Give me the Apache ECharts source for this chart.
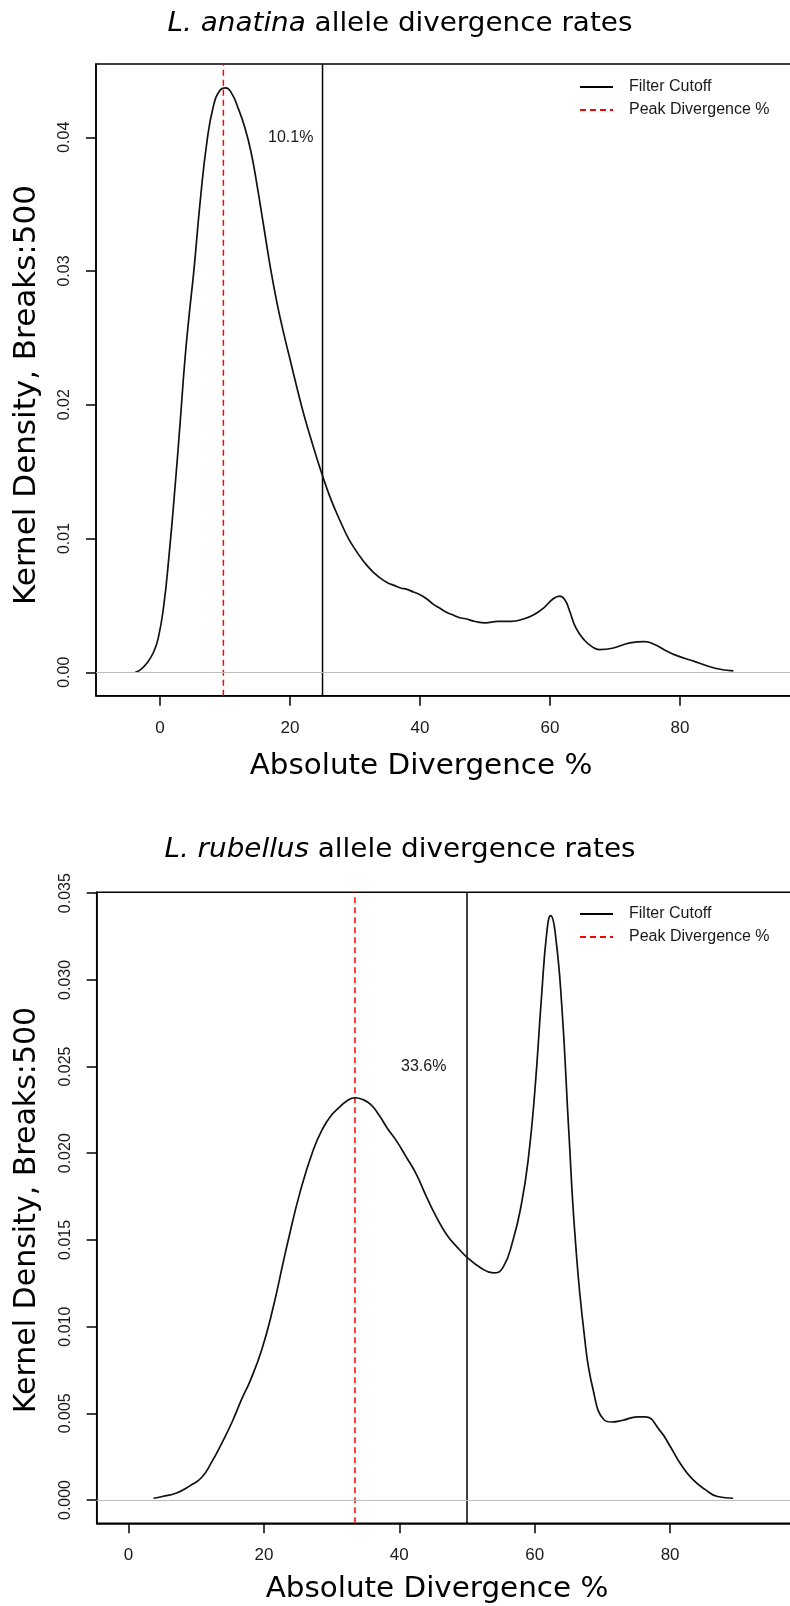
<!DOCTYPE html>
<html>
<head>
<meta charset="utf-8">
<script src="https://cdn.jsdelivr.net/npm/echarts@6/dist/echarts.min.js"></script>
<style>
html,body{margin:0;padding:0;background:#fff;}
#chart{width:790px;height:1606px;}
</style>
</head>
<body>
<div id="chart"></div>
<script>
// ---------- data ----------
const xTicks = [0, 20, 40, 60, 80];
const yTicksTop = [0, 0.01, 0.02, 0.03, 0.04];
const yTicksBottom = [0, 0.005, 0.010, 0.015, 0.020, 0.025, 0.030, 0.035];

// L. anatina kernel density [divergence %, density]
const anatinaDensity = [
  [-3.8,0.0000],[-3.0,0.0002],[-2.0,0.0007],[-1.0,0.0015],[-0.3,0.0025],[0.5,0.0047],
  [1.4,0.0088],[2.3,0.0138],[3.1,0.0187],[3.8,0.0232],[4.5,0.0268],[5.2,0.0300],
  [6.2,0.0353],[7.2,0.0396],[8.2,0.0423],[9.2,0.0435],[10.1,0.0437],[11.0,0.0433],
  [12.0,0.0422],[13.0,0.0408],[14.0,0.0389],[15.0,0.0362],[16.0,0.0332],[17.0,0.0302],
  [18.0,0.0276],[19.0,0.0254],[20.0,0.0234],[21.0,0.0214],[22.0,0.0195],[23.0,0.0178],
  [24.0,0.0162],[25.0,0.0147],[26.0,0.0133],[27.0,0.0121],[28.0,0.0110],[29.0,0.0100],
  [30.0,0.0092],[31.0,0.0085],[32.0,0.0079],[33.0,0.0074],[34.0,0.0070],[35.0,0.0067],
  [36.0,0.0065],[37.0,0.0063],[38.0,0.0062],[39.0,0.0060],[40.0,0.0058],[41.0,0.0055],
  [42.0,0.0051],[43.0,0.0048],[44.0,0.0045],[45.0,0.0043],[46.0,0.0041],[47.0,0.0040],
  [48.5,0.0038],[50.0,0.0037],[52.0,0.0038],[54.0,0.0038],[56.0,0.0040],[57.5,0.0043],
  [59.0,0.0048],[60.5,0.0055],[61.5,0.0057],[62.3,0.0054],[63.0,0.0046],[64.0,0.0033],
  [65.3,0.0024],[66.5,0.0019],[67.6,0.0017],[69.6,0.0018],[72.3,0.0022],[74.5,0.0023],
  [76.0,0.0021],[77.5,0.0017],[79.2,0.0013],[82.3,0.0008],[85.4,0.0003],[88.2,0.0001]
];
const anatinaCutoff = 25;
const anatinaPeak = 9.75;
const anatinaPeakLabel = '10.1%';
const anatinaLabelPos = [20.1, 0.040];

// L. rubellus kernel density [divergence %, density]
const rubellusDensity = [
  [3.7,0.0001],[5.0,0.0002],[7.1,0.0004],[9.0,0.0008],[10.8,0.0013],[12.3,0.0022],
  [13.8,0.0033],[15.3,0.0045],[16.7,0.0058],[18.0,0.0069],[19.7,0.0087],[21.3,0.0110],
  [22.9,0.0138],[23.6,0.0150],[25.3,0.0177],[27.3,0.0202],[28.8,0.0215],[30.0,0.0222],
  [31.0,0.0226],[32.2,0.0230],[33.45,0.0232],[34.6,0.0231],[35.8,0.0228],[37.0,0.0222],
  [38.3,0.0214],[39.6,0.0207],[41.0,0.0198],[42.5,0.0188],[44.0,0.0175],[45.5,0.0163],
  [47.0,0.0153],[48.5,0.0146],[50.0,0.0140],[52.0,0.0134],[53.9,0.0131],[55.3,0.0134],
  [56.8,0.0150],[58.0,0.0170],[59.0,0.0195],[60.0,0.0235],[61.0,0.0290],[61.8,0.0328],
  [62.35,0.0337],[63.0,0.0328],[64.0,0.0285],[65.0,0.0215],[66.0,0.0150],[67.3,0.0096],
  [68.6,0.0064],[70.3,0.0046],[71.4,0.0045],[73.0,0.0046],[75.2,0.0048],[76.3,0.0048],
  [78.5,0.0040],[80.0,0.0031],[81.5,0.0021],[83.3,0.0012],[85.2,0.0006],[87.0,0.0002],
  [89.3,0.0001]
];
const rubellusCutoff = 50;
const rubellusPeak = 33.45;
const rubellusPeakLabel = '33.6%';
const rubellusLabelPos = [43.6, 0.025];

const legendNames = ['Filter Cutoff', 'Peak Divergence %'];
const yTitle = 'Kernel Density, Breaks:500';
const xTitle = 'Absolute Divergence %';

// ---------- layout ----------
const TOP = {left: 96, top: 64, height: 631.7, xmin: -9.85, xmax: 100, ymin: -0.00175, ymax: 0.04548, scaleX: 6.5};
const BOT = {left: 96.7, top: 892.3, height: 631, xmin: -4.7, xmax: 105, ymin: -0.001344, ymax: 0.03505, scaleX: 6.77};

const tickFont = 'Liberation Sans';
const titleFont = 'DejaVu Sans';

function gridOf(p) {
  return {left: p.left, top: p.top, height: p.height, width: (p.xmax - p.xmin) * p.scaleX,
    outerBoundsMode: 'none', containLabel: false,
    show: true, borderColor: '#000', borderWidth: 1.5, backgroundColor: 'transparent'};
}
function xAxisOf(idx, p) {
  return {type: 'value', gridIndex: idx, min: p.xmin, max: p.xmax,
    axisLine: {show: true, onZero: false, lineStyle: {color: '#000', width: 1.5}},
    axisTick: {show: true, length: 10, customValues: xTicks, lineStyle: {color: '#000', width: 1.5}},
    axisLabel: {show: true, customValues: xTicks, margin: 24, color: '#1a1a1a', fontFamily: tickFont, fontSize: 17},
    splitLine: {show: false}};
}
function yAxisOf(idx, p, ticks, dec) {
  return {type: 'value', gridIndex: idx, min: p.ymin, max: p.ymax,
    axisLine: {show: true, onZero: false, lineStyle: {color: '#000', width: 1.5}},
    axisTick: {show: true, length: 10, customValues: ticks, lineStyle: {color: '#000', width: 1.5}},
    axisLabel: {show: true, customValues: ticks, rotate: 90, margin: 23, color: '#1a1a1a', fontFamily: tickFont, fontSize: 16,
      formatter: v => v.toFixed(dec)},
    splitLine: {show: false}};
}
function seriesOf(idx, p, density, cutoff, peak, label, labelPos) {
  return [
    {type: 'line', name: 'density', xAxisIndex: idx, yAxisIndex: idx, data: density,
     showSymbol: false, symbol: 'none', smooth: 0.5,
     lineStyle: {color: '#111', width: 1.7}, z: 3, silent: true,
     markLine: {silent: true, symbol: 'none', label: {show: false},
       lineStyle: {color: '#bebebe', width: 1.2, type: 'solid'}, data: [{yAxis: 0}]},
     markPoint: {silent: true, symbol: 'circle', symbolSize: 0,
       label: {show: true, position: 'inside', formatter: label, color: '#1a1a1a', fontFamily: tickFont, fontSize: 16},
       data: [{coord: labelPos}]}},
    {type: 'line', name: legendNames[0], xAxisIndex: idx, yAxisIndex: idx,
     data: [[cutoff, p.ymin], [cutoff, p.ymax]], showSymbol: false, symbol: 'none',
     lineStyle: {color: '#000', width: 1.5, type: 'solid'}, itemStyle: {color: '#000'}, z: 2, silent: true},
    {type: 'line', name: legendNames[1], xAxisIndex: idx, yAxisIndex: idx,
     data: [[peak, p.ymin], [peak, p.ymax]], showSymbol: false, symbol: 'none',
     lineStyle: {color: '#ff0000', width: 1.5, type: [6, 4]}, itemStyle: {color: '#ff0000'}, z: 2, silent: true}
  ];
}
function legendOf(top) {
  return {data: legendNames, orient: 'vertical', left: 579, top: top, padding: 0,
    itemWidth: 33, itemHeight: 14, itemGap: 7, selectedMode: false,
    itemStyle: {opacity: 0},
    textStyle: {fontFamily: tickFont, fontSize: 16, lineHeight: 14, color: '#1a1a1a', padding: [0, 0, 0, 11]}};
}
function titleText(x, y, italic, rest) {
  return {type: 'text', x: x, y: y, scaleX: 1.03,
    style: {text: '{i|' + italic + '}' + rest, fontFamily: titleFont, fontSize: 27, fill: '#000',
      align: 'center', verticalAlign: 'middle',
      rich: {i: {fontFamily: titleFont, fontStyle: 'italic', fontSize: 27, fill: '#000'}}}};
}
function axisTitle(x, y) {
  return {type: 'text', x: x, y: y, scaleX: 1.05,
    style: {text: xTitle, fontFamily: titleFont, fontSize: 28, fill: '#000',
      align: 'center', verticalAlign: 'middle'}};
}
function yAxisTitle(x, y, size) {
  return {type: 'text', x: x, y: y, rotation: Math.PI / 2,
    style: {text: yTitle, fontFamily: titleFont, fontSize: size, fill: '#000',
      align: 'center', verticalAlign: 'middle'}};
}

const chart = echarts.init(document.getElementById('chart'), null, {renderer: 'canvas'});
chart.setOption({
  animation: false,
  backgroundColor: '#fff',
  grid: [gridOf(TOP), gridOf(BOT)],
  xAxis: [xAxisOf(0, TOP), xAxisOf(1, BOT)],
  yAxis: [yAxisOf(0, TOP, yTicksTop, 2), yAxisOf(1, BOT, yTicksBottom, 3)],
  legend: [legendOf(79), legendOf(906)],
  series: [].concat(
    seriesOf(0, TOP, anatinaDensity, anatinaCutoff, anatinaPeak, anatinaPeakLabel, anatinaLabelPos),
    seriesOf(1, BOT, rubellusDensity, rubellusCutoff, rubellusPeak, rubellusPeakLabel, rubellusLabelPos)
  ),
  graphic: [
    titleText(400, 24, 'L. anatina', ' allele divergence rates'),
    titleText(400, 850, 'L. rubellus', ' allele divergence rates'),
    axisTitle(421, 767),
    axisTitle(437, 1590),
    yAxisTitle(27, 395, 31),
    yAxisTitle(27, 1210, 30)
  ]
});
</script>
</body>
</html>
